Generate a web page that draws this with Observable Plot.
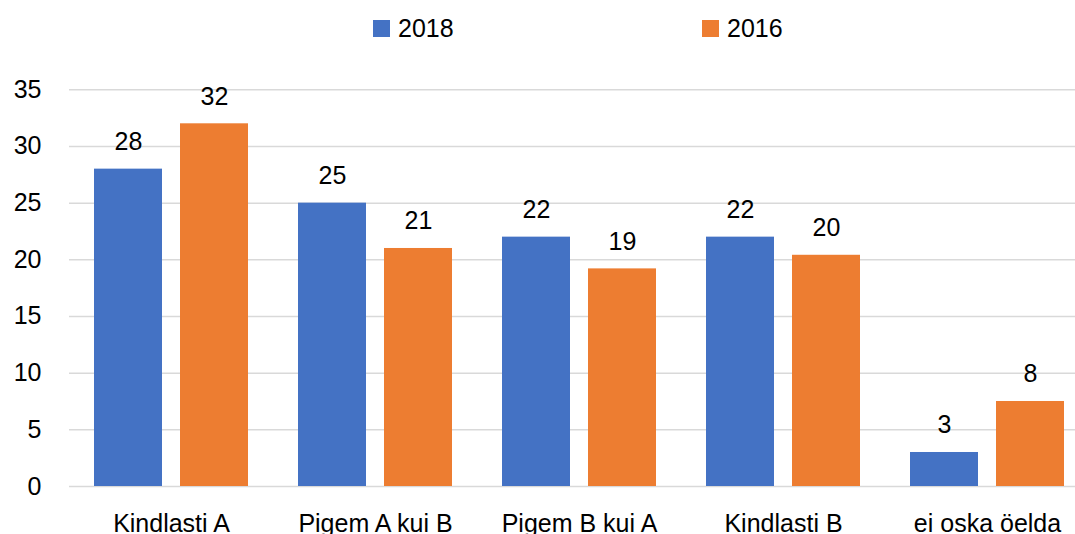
<!DOCTYPE html>
<html>
<head>
<meta charset="utf-8">
<script src="https://cdn.jsdelivr.net/npm/d3@7"></script>
<script src="https://cdn.jsdelivr.net/npm/@observablehq/plot@0.6"></script>
<style>
  html, body { margin: 0; padding: 0; background: #fff; overflow: hidden; width: 1075px; height: 534px; }
  #legend { position: relative; height: 56px; width: 1075px; font-family: "Liberation Sans", Arial, sans-serif; font-size: 25px; color: #000; }
  #legend .sw { position: absolute; top: 20px; width: 17px; height: 17px; }
  #legend .lb { position: absolute; top: 16px; line-height: 25px; white-space: nowrap; }
  #chart { width: 1089px; }
  #chart svg { max-width: none !important; }
</style>
</head>
<body>
<div id="legend"></div>
<div id="chart"></div>
<script>
const categories = ["Kindlasti A", "Pigem A kui B", "Pigem B kui A", "Kindlasti B", "ei oska öelda"];
const series = ["2018", "2016"];
const values2018 = [28, 25, 22, 22, 3];
const values2016 = [32, 21, 19.2, 20.4, 7.5];
const yTicks = [0, 5, 10, 15, 20, 25, 30, 35];
const colors = ["#4472C4", "#ED7D31"];

const data = [];
categories.forEach((c, i) => {
  data.push({category: c, series: series[0], value: values2018[i]});
  data.push({category: c, series: series[1], value: values2016[i]});
});

// Legend (HTML, above the SVG)
const legend = document.getElementById("legend");
const legendPos = [{sw: 373, lb: 398}, {sw: 702, lb: 727}];
series.forEach((s, i) => {
  const sw = document.createElement("div");
  sw.className = "sw";
  sw.style.left = legendPos[i].sw + "px";
  sw.style.background = colors[i];
  legend.appendChild(sw);
  const lb = document.createElement("div");
  lb.className = "lb";
  lb.style.left = legendPos[i].lb + "px";
  lb.textContent = s;
  legend.appendChild(lb);
});

const chart = Plot.plot({
  width: 1089,
  height: 478,
  marginLeft: 69,
  marginRight: 0,
  marginTop: 33.3,
  marginBottom: 48,
  style: {fontFamily: "Liberation Sans, Arial, sans-serif", fontSize: "25px", color: "#000", background: "#fff", overflow: "visible", maxWidth: "none"},
  fx: {domain: categories, padding: 0, label: null},
  x: {domain: series, paddingInner: 0.2126, paddingOuter: 0.279, axis: null},
  y: {domain: [0, 35], axis: null},
  color: {domain: series, range: colors},
  marks: [
    Plot.ruleY(yTicks, {stroke: "#d9d9d9", strokeWidth: 1.5, strokeOpacity: 1}),
    Plot.barY(data, {fx: "category", x: "series", y: "value", fill: "series"}),
    Plot.text(data, {fx: "category", x: "series", y: "value", text: d => String(Math.round(d.value)), lineAnchor: "bottom", dy: -19, fill: "#000", fontSize: 25}),
    Plot.axisY({ticks: yTicks, tickSize: 0, tickPadding: 28, fontSize: 25, label: null, tickFormat: d => String(d)}),
    Plot.axisFx({anchor: "bottom", tickSize: 0, tickPadding: 28, fontSize: 25, label: null})
  ]
});
document.getElementById("chart").appendChild(chart);
</script>
</body>
</html>
